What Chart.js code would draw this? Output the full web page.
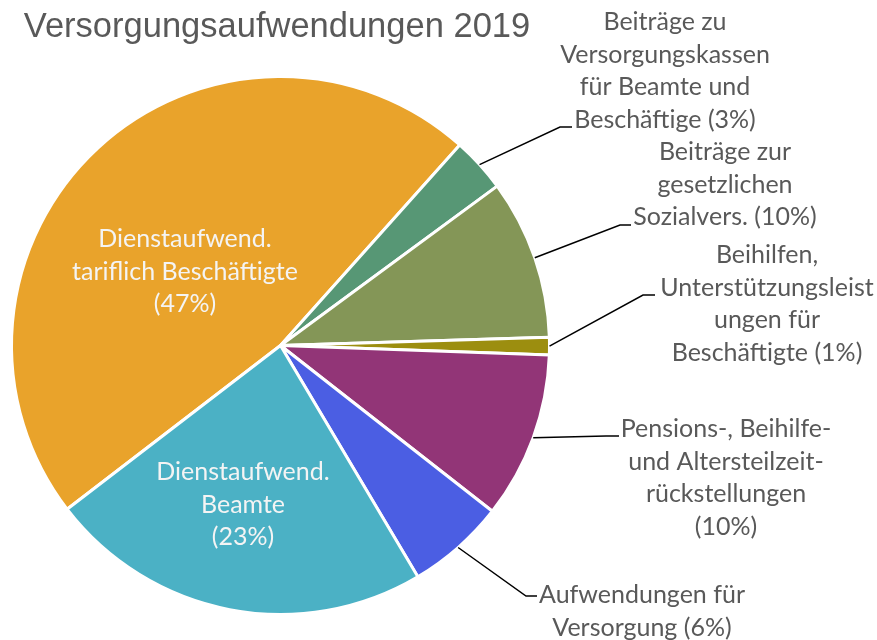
<!DOCTYPE html>
<html lang="de">
<head>
  <meta charset="UTF-8">
  <title>Versorgungsaufwendungen 2019</title>
  <style>
    body {
      margin: 0;
      padding: 0;
      background-color: white;
    }
    .wrap {
      width: 877px;
      height: 640px;
    }
  </style>
  <script src="https://cdn.jsdelivr.net/npm/chart.js"></script>
</head>
<body>

  <div class="wrap">
    <canvas id="pieChart" width="877" height="640"></canvas>
  </div>

  <script>
    // Data
    const categories = [
      'Dienstaufwend. tariflich Beschäftigte',
      'Beiträge zu Versorgungskassen für Beamte und Beschäftige',
      'Beiträge zur gesetzlichen Sozialvers.',
      'Beihilfen, Unterstützungsleistungen für Beschäftigte',
      'Pensions-, Beihilfe- und Altersteilzeitrückstellungen',
      'Aufwendungen für Versorgung',
      'Dienstaufwend. Beamte'
    ];
    const shares = [47, 3.3, 9.6, 1.05, 10, 5.9, 23.1];
    const shownPercent = ['47%', '3%', '10%', '1%', '10%', '6%', '23%'];
    const labelLines = [
      ['Dienstaufwend.', 'tariflich Beschäftigte', '(47%)'],
      ['Beiträge zu', 'Versorgungskassen', 'für Beamte und', 'Beschäftige (3%)'],
      ['Beiträge zur', 'gesetzlichen', 'Sozialvers. (10%)'],
      ['Beihilfen,', 'Unterstützungsleist', 'ungen für', 'Beschäftigte (1%)'],
      ['Pensions-, Beihilfe-', 'und Altersteilzeit-', 'rückstellungen', '(10%)'],
      ['Aufwendungen für', 'Versorgung (6%)'],
      ['Dienstaufwend.', 'Beamte', '(23%)']
    ];
    const sliceColors = ['#E9A32B', '#579775', '#849657', '#9C8E0F', '#923577', '#4B5EE3', '#4BB1C5'];

    // label placement (center x, first line y, elbow point) -- layout only
    const labelLayout = [
      { inside: true, x: 185, y: 239 },
      { x: 665, y: 22, elbow: [560, 127], end: 572 },
      { x: 725, y: 152, elbow: [620, 225], end: 631 },
      { x: 767, y: 255, elbow: [643, 295], end: 655 },
      { x: 726, y: 429, elbow: [606, 436], end: 619 },
      { x: 642, y: 595, elbow: [526, 596], end: 537 },
      { inside: true, x: 243, y: 472 }
    ];

    const labelPlugin = {
      id: 'sliceLabels',
      afterDraw(chart) {
        const ctx = chart.ctx;
        const arcs = chart.getDatasetMeta(0).data;
        ctx.save();

        // title
        ctx.fillStyle = '#595959';
        ctx.font = '34.5px "Liberation Sans", Arial, sans-serif';
        ctx.textAlign = 'center';
        ctx.textBaseline = 'alphabetic';
        ctx.fillText('Versorgungsaufwendungen 2019', 277, 37);

        ctx.font = '25px Lato, "Open Sans", sans-serif';
        ctx.textBaseline = 'middle';
        arcs.forEach((arc, i) => {
          const lay = labelLayout[i];
          const lines = labelLines[i];
          if (lay.inside) {
            ctx.fillStyle = '#F4F4F4';
          } else {
            // leader line from the middle of the arc's outer edge
            const mid = (arc.startAngle + arc.endAngle) / 2;
            const sx = arc.x + Math.cos(mid) * arc.outerRadius;
            const sy = arc.y + Math.sin(mid) * arc.outerRadius;
            ctx.strokeStyle = '#000';
            ctx.lineWidth = 1.5;
            ctx.beginPath();
            ctx.moveTo(sx, sy);
            ctx.lineTo(lay.elbow[0], lay.elbow[1]);
            ctx.lineTo(lay.end, lay.elbow[1]);
            ctx.stroke();
            ctx.fillStyle = '#595959';
          }
          lines.forEach((line, k) => {
            ctx.fillText(line, lay.x, lay.y + k * 32.5);
          });
        });
        ctx.restore();
      }
    };

    const ctx = document.getElementById('pieChart').getContext('2d');
    new Chart(ctx, {
      type: 'pie',
      data: {
        labels: categories,
        datasets: [{
          data: shares,
          backgroundColor: sliceColors,
          borderColor: '#FFFFFF',
          borderWidth: 3
        }]
      },
      options: {
        responsive: false,
        animation: false,
        rotation: 232.5,
        layout: {
          padding: { left: 10, right: 326, top: 75, bottom: 24 }
        },
        plugins: {
          legend: { display: false },
          tooltip: { enabled: false },
          title: { display: false }
        }
      },
      plugins: [labelPlugin]
    });
  </script>

</body>
</html>
